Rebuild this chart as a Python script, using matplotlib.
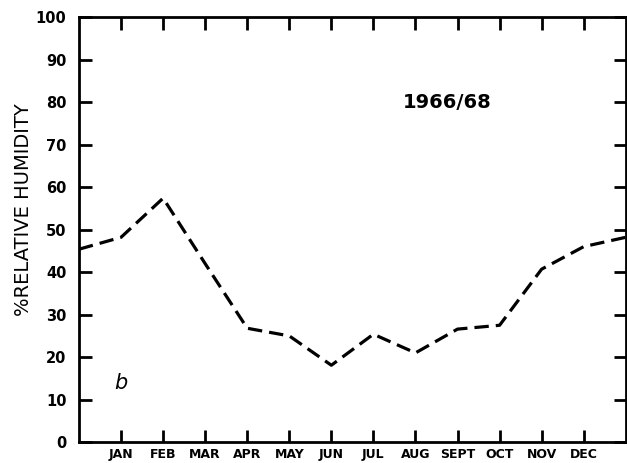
import matplotlib.pyplot as plt

# monthly relative humidity, 1966/68 (x=0 and x=13 are the wrap-around ends)
month_pos = [0, 1, 2, 3, 4, 5, 6, 7, 8, 9, 10, 11, 12, 13]
humidity = [45.4, 48.2, 57.4, 42.0, 26.8, 25.0, 18.1, 25.4, 21.0, 26.6, 27.5, 40.7, 46.0, 48.2]
month_labels = ['JAN', 'FEB', 'MAR', 'APR', 'MAY', 'JUN', 'JUL', 'AUG', 'SEPT', 'OCT', 'NOV', 'DEC']
y_ticks = [0, 10, 20, 30, 40, 50, 60, 70, 80, 90, 100]

fig = plt.figure(figsize=(6.27, 4.63), dpi=100)
ax = fig.add_axes([0.126, 0.045, 0.872, 0.918])

ax.plot(month_pos, humidity, color='black', linewidth=2.3, dashes=(4.5, 2.2))

ax.set_xlim(0, 13)
ax.set_ylim(0, 100)
ax.set_xticks(range(1, 13))
ax.set_xticklabels(month_labels, fontsize=9, fontweight='bold')
ax.set_yticks(y_ticks)
ax.set_yticklabels([str(v) for v in y_ticks], fontsize=10.5, fontweight='bold')
ax.tick_params(axis='both', direction='in', length=9, width=2, top=True, right=True)
ax.tick_params(axis='y', pad=9)
ax.tick_params(axis='x', pad=4)
for s in ax.spines.values():
    s.set_linewidth(2)

ax.set_ylabel('%RELATIVE HUMIDITY', fontsize=14)
ax.yaxis.set_label_coords(-0.084, 0.546)
ax.text(8.75, 80, '1966/68', fontsize=14, fontweight='bold', ha='center', va='center')
ax.text(1.0, 14, 'b', fontsize=15, style='italic', ha='center', va='center')

fig.savefig('out.png', dpi=100)
